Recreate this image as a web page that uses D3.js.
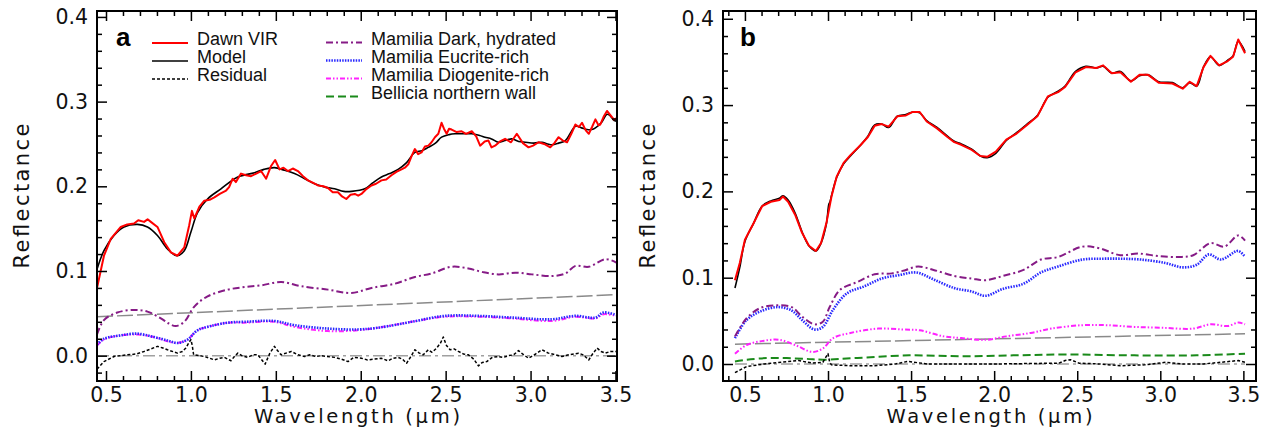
<!DOCTYPE html>
<html>
<head>
<meta charset="utf-8">
<script src="https://cdn.jsdelivr.net/npm/d3@7"></script>
<style>
  body { margin: 0; background: #fff; }
  svg { display: block; }
</style>
</head>
<body>
<div id="container"></div>
<script>
let w = 1266;
let h = 430;

// DATA  (wavelength in um, reflectance)
// panel a
let aDawnVIR = [[0.447,0.080],[0.488,0.118],[0.528,0.138],[0.587,0.152],[0.625,0.155],[0.665,0.156],[0.69,0.160],[0.724,0.158],[0.745,0.161],[0.764,0.158],[0.803,0.152],[0.843,0.134],[0.882,0.122],[0.921,0.118],[0.961,0.128],[0.990,0.154],[1.006,0.171],[1.02,0.162],[1.05,0.176],[1.079,0.183],[1.11,0.184],[1.138,0.187],[1.17,0.191],[1.207,0.195],[1.225,0.199],[1.246,0.209],[1.265,0.205],[1.295,0.215],[1.325,0.213],[1.354,0.212],[1.385,0.215],[1.413,0.218],[1.443,0.209],[1.472,0.224],[1.496,0.231],[1.522,0.220],[1.545,0.222],[1.571,0.218],[1.6,0.221],[1.63,0.218],[1.66,0.212],[1.689,0.207],[1.72,0.204],[1.748,0.201],[1.78,0.200],[1.807,0.198],[1.835,0.193],[1.866,0.193],[1.89,0.188],[1.915,0.185],[1.94,0.190],[1.965,0.191],[1.985,0.189],[2.004,0.191],[2.035,0.197],[2.063,0.201],[2.09,0.203],[2.122,0.207],[2.15,0.208],[2.181,0.213],[2.21,0.217],[2.240,0.220],[2.26,0.222],[2.28,0.226],[2.30,0.236],[2.319,0.244],[2.338,0.238],[2.358,0.240],[2.378,0.247],[2.398,0.248],[2.417,0.252],[2.437,0.258],[2.457,0.262],[2.476,0.275],[2.49,0.268],[2.506,0.262],[2.52,0.268],[2.535,0.267],[2.565,0.264],[2.594,0.265],[2.62,0.262],[2.654,0.265],[2.68,0.259],[2.703,0.248],[2.73,0.253],[2.752,0.254],[2.77,0.246],[2.791,0.248],[2.82,0.253],[2.85,0.256],[2.885,0.252],[2.919,0.262],[2.955,0.251],[2.988,0.246],[3.015,0.248],[3.047,0.252],[3.08,0.250],[3.116,0.246],[3.14,0.251],[3.165,0.258],[3.19,0.254],[3.215,0.252],[3.24,0.262],[3.264,0.273],[3.285,0.270],[3.303,0.275],[3.325,0.266],[3.343,0.262],[3.362,0.270],[3.382,0.279],[3.40,0.272],[3.411,0.273],[3.43,0.282],[3.45,0.289],[3.47,0.284],[3.49,0.279],[3.505,0.280]];
let aModel = [[0.447,0.102],[0.488,0.124],[0.547,0.142],[0.606,0.152],[0.685,0.155],[0.744,0.152],[0.803,0.142],[0.862,0.126],[0.917,0.118],[0.961,0.124],[1.0,0.146],[1.039,0.169],[1.098,0.185],[1.177,0.197],[1.276,0.211],[1.374,0.216],[1.43,0.220],[1.492,0.222],[1.55,0.219],[1.61,0.215],[1.67,0.209],[1.728,0.203],[1.79,0.199],[1.846,0.197],[1.9,0.194],[1.945,0.194],[2.024,0.197],[2.07,0.204],[2.122,0.211],[2.17,0.215],[2.22,0.220],[2.27,0.228],[2.319,0.240],[2.36,0.242],[2.398,0.246],[2.44,0.251],[2.476,0.258],[2.52,0.261],[2.555,0.262],[2.6,0.262],[2.654,0.262],[2.7,0.260],[2.732,0.258],[2.77,0.256],[2.811,0.252],[2.85,0.254],[2.89,0.256],[2.93,0.253],[2.969,0.252],[3.02,0.251],[3.067,0.252],[3.1,0.250],[3.126,0.249],[3.165,0.251],[3.205,0.254],[3.235,0.263],[3.264,0.271],[3.30,0.269],[3.333,0.267],[3.36,0.267],[3.382,0.269],[3.42,0.276],[3.45,0.285],[3.47,0.283],[3.49,0.278],[3.505,0.277]];
let aResidual = [[0.447,-0.016],[0.488,-0.007],[0.547,-0.001],[0.626,0.001],[0.68,0.002],[0.724,0.005],[0.765,0.008],[0.803,0.011],[0.835,0.009],[0.862,0.007],[0.921,0.003],[0.950,0.005],[0.970,0.009],[0.990,0.016],[1.0,0.019],[1.008,0.012],[1.016,0.001],[1.05,0.000],[1.079,-0.001],[1.11,-0.003],[1.138,-0.005],[1.17,-0.003],[1.197,-0.002],[1.236,-0.006],[1.256,-0.001],[1.276,0.003],[1.30,0.000],[1.335,-0.002],[1.365,0.001],[1.394,0.001],[1.437,-0.010],[1.465,0.003],[1.492,0.011],[1.51,0.006],[1.531,0.001],[1.56,0.003],[1.591,0.005],[1.63,0.001],[1.669,-0.001],[1.70,0.001],[1.735,-0.001],[1.768,0.000],[1.80,-0.001],[1.846,-0.002],[1.885,-0.004],[1.925,-0.007],[1.96,-0.002],[2.004,-0.003],[2.04,-0.005],[2.083,-0.004],[2.12,-0.003],[2.161,-0.006],[2.19,-0.003],[2.22,-0.002],[2.245,-0.004],[2.27,-0.009],[2.295,-0.001],[2.319,0.007],[2.345,0.003],[2.368,0.001],[2.398,0.007],[2.42,0.004],[2.447,0.009],[2.47,0.015],[2.486,0.022],[2.505,0.012],[2.526,0.007],[2.55,0.008],[2.575,0.005],[2.605,0.002],[2.634,0.001],[2.665,-0.004],[2.693,-0.012],[2.715,-0.008],[2.742,-0.007],[2.775,-0.002],[2.811,-0.001],[2.84,-0.002],[2.87,0.000],[2.9,0.001],[2.929,0.006],[2.96,0.001],[2.988,-0.003],[3.03,0.002],[3.067,0.007],[3.105,0.003],[3.146,0.001],[3.185,-0.001],[3.224,0.001],[3.255,0.002],[3.283,0.003],[3.31,0.001],[3.343,-0.005],[3.365,0.002],[3.392,0.009],[3.415,0.005],[3.441,0.003],[3.47,0.005],[3.505,0.005]];
let aDark = [[0.447,0.025],[0.488,0.042],[0.567,0.051],[0.665,0.054],[0.744,0.052],[0.823,0.044],[0.870,0.038],[0.911,0.035],[0.961,0.040],[1.02,0.058],[1.098,0.070],[1.217,0.078],[1.315,0.081],[1.413,0.083],[1.531,0.087],[1.65,0.082],[1.807,0.078],[1.945,0.074],[2.063,0.080],[2.201,0.085],[2.319,0.093],[2.417,0.097],[2.535,0.105],[2.634,0.103],[2.713,0.099],[2.811,0.096],[2.909,0.098],[3.008,0.096],[3.126,0.094],[3.205,0.097],[3.264,0.106],[3.343,0.105],[3.441,0.114],[3.505,0.110]];
let aEucrite = [[0.447,0.013],[0.488,0.020],[0.587,0.024],[0.685,0.026],[0.783,0.022],[0.862,0.018],[0.921,0.015],[0.980,0.019],[1.039,0.030],[1.118,0.035],[1.217,0.039],[1.315,0.040],[1.492,0.041],[1.61,0.036],[1.807,0.032],[1.984,0.031],[2.102,0.033],[2.299,0.040],[2.496,0.047],[2.693,0.047],[2.89,0.045],[3.126,0.043],[3.264,0.047],[3.382,0.045],[3.43,0.051],[3.505,0.048]];
let aDiogenite = [[0.447,0.012],[0.488,0.019],[0.587,0.024],[0.685,0.025],[0.783,0.022],[0.862,0.017],[0.921,0.015],[0.980,0.019],[1.039,0.030],[1.118,0.035],[1.217,0.039],[1.315,0.039],[1.492,0.040],[1.61,0.034],[1.807,0.029],[1.984,0.030],[2.102,0.033],[2.299,0.040],[2.496,0.046],[2.693,0.046],[2.89,0.044],[3.126,0.041],[3.264,0.046],[3.382,0.044],[3.43,0.049],[3.505,0.047]];
let aContinuum = [[0.447,0.046],[3.505,0.072]];
let aZero = [[0.447,0.0],[3.505,0.0]];

// panel b
let bDawnVIR = [[0.44,0.097],[0.469,0.117],[0.5,0.144],[0.552,0.163],[0.604,0.183],[0.656,0.188],[0.708,0.190],[0.729,0.194],[0.76,0.188],[0.802,0.173],[0.844,0.152],[0.885,0.137],[0.927,0.131],[0.958,0.140],[0.99,0.163],[1.021,0.194],[1.052,0.217],[1.094,0.233],[1.135,0.242],[1.198,0.254],[1.24,0.263],[1.281,0.276],[1.323,0.278],[1.365,0.275],[1.417,0.287],[1.469,0.288],[1.51,0.292],[1.552,0.292],[1.594,0.281],[1.656,0.273],[1.719,0.263],[1.76,0.257],[1.802,0.254],[1.865,0.248],[1.917,0.241],[1.958,0.240],[2.01,0.246],[2.073,0.260],[2.135,0.267],[2.198,0.277],[2.26,0.287],[2.323,0.310],[2.385,0.315],[2.427,0.321],[2.49,0.338],[2.552,0.344],[2.615,0.343],[2.656,0.346],[2.708,0.337],[2.76,0.338],[2.823,0.327],[2.875,0.335],[2.927,0.335],[2.99,0.326],[3.073,0.325],[3.135,0.319],[3.177,0.327],[3.219,0.322],[3.26,0.344],[3.302,0.357],[3.354,0.346],[3.406,0.351],[3.438,0.356],[3.469,0.376],[3.51,0.360]];
let bModel = [[0.44,0.088],[0.469,0.112],[0.5,0.142],[0.552,0.163],[0.604,0.183],[0.656,0.189],[0.708,0.192],[0.729,0.195],[0.76,0.190],[0.802,0.175],[0.844,0.153],[0.885,0.137],[0.927,0.131],[0.958,0.140],[0.99,0.162],[1.005,0.185],[1.012,0.188],[1.021,0.195],[1.052,0.216],[1.094,0.232],[1.135,0.241],[1.198,0.254],[1.24,0.264],[1.281,0.277],[1.323,0.278],[1.365,0.274],[1.417,0.287],[1.469,0.289],[1.51,0.292],[1.552,0.291],[1.594,0.282],[1.656,0.274],[1.719,0.264],[1.76,0.258],[1.802,0.255],[1.865,0.249],[1.917,0.241],[1.958,0.239],[2.01,0.244],[2.073,0.259],[2.135,0.268],[2.198,0.278],[2.26,0.288],[2.323,0.309],[2.385,0.316],[2.427,0.322],[2.49,0.339],[2.552,0.345],[2.615,0.343],[2.656,0.345],[2.708,0.337],[2.76,0.339],[2.823,0.328],[2.875,0.334],[2.927,0.335],[2.99,0.327],[3.073,0.326],[3.135,0.320],[3.177,0.326],[3.219,0.322],[3.26,0.344],[3.302,0.356],[3.354,0.346],[3.406,0.352],[3.438,0.357],[3.469,0.374],[3.51,0.362]];
let bResidual = [[0.44,-0.010],[0.51,-0.003],[0.615,0.000],[0.719,0.002],[0.823,0.004],[0.906,0.001],[0.969,0.002],[1.0,0.012],[1.01,0.002],[1.021,-0.001],[1.135,-0.002],[1.281,-0.002],[1.406,0.000],[1.479,0.003],[1.6,0.000],[2.0,0.000],[2.39,0.001],[2.427,0.004],[2.46,0.005],[2.51,0.001],[2.635,0.000],[2.76,-0.002],[2.906,-0.001],[3.031,0.002],[3.135,0.000],[3.26,0.000],[3.365,0.002],[3.469,0.004],[3.51,0.002]];
let bDark = [[0.44,0.032],[0.51,0.053],[0.594,0.065],[0.698,0.068],[0.781,0.066],[0.844,0.055],[0.917,0.046],[0.969,0.049],[1.01,0.066],[1.073,0.086],[1.177,0.095],[1.281,0.104],[1.385,0.105],[1.469,0.109],[1.542,0.113],[1.635,0.109],[1.76,0.102],[1.865,0.099],[1.948,0.097],[2.052,0.102],[2.177,0.109],[2.281,0.121],[2.385,0.124],[2.531,0.136],[2.635,0.134],[2.76,0.126],[2.865,0.128],[2.99,0.125],[3.115,0.124],[3.198,0.126],[3.302,0.140],[3.385,0.136],[3.469,0.149],[3.51,0.143]];
let bEucrite = [[0.44,0.030],[0.51,0.051],[0.594,0.061],[0.698,0.066],[0.781,0.062],[0.844,0.051],[0.917,0.040],[0.969,0.043],[1.031,0.063],[1.115,0.082],[1.219,0.090],[1.323,0.099],[1.427,0.103],[1.531,0.106],[1.635,0.098],[1.76,0.088],[1.865,0.084],[1.948,0.079],[2.052,0.087],[2.177,0.093],[2.281,0.106],[2.385,0.113],[2.531,0.121],[2.656,0.122],[2.76,0.122],[2.885,0.121],[3.031,0.117],[3.135,0.112],[3.219,0.115],[3.292,0.127],[3.365,0.121],[3.469,0.131],[3.51,0.124]];
let bDiogenite = [[0.44,0.012],[0.51,0.022],[0.615,0.027],[0.708,0.028],[0.802,0.022],[0.906,0.014],[0.969,0.018],[1.031,0.030],[1.135,0.036],[1.302,0.041],[1.448,0.040],[1.552,0.039],[1.698,0.032],[1.802,0.030],[1.948,0.028],[2.073,0.032],[2.219,0.036],[2.344,0.041],[2.531,0.045],[2.677,0.045],[2.844,0.043],[3.01,0.042],[3.198,0.041],[3.302,0.046],[3.406,0.044],[3.469,0.048],[3.51,0.046]];
let bBellicia = [[0.44,0.003],[0.51,0.005],[0.656,0.007],[0.865,0.006],[0.969,0.005],[1.177,0.007],[1.49,0.010],[1.802,0.009],[2.115,0.010],[2.427,0.011],[2.844,0.010],[3.219,0.010],[3.51,0.012]];
let bContinuum = [[0.44,0.023],[3.51,0.035]];
let bZero = [[0.44,0.0],[3.51,0.0]];

let xMajor = [0.5, 1.0, 1.5, 2.0, 2.5, 3.0, 3.5];
let yMajor = [0.0, 0.1, 0.2, 0.3, 0.4];

// SVG
let viz = d3.select("#container").append("svg")
    .attr("width", w)
    .attr("height", h)
    .style("background-color", "white");

let styles = {
  dawn:      {stroke: "#ff0000", width: 2,   dash: null,            curve: d3.curveLinear},
  model:     {stroke: "#000000", width: 1.6, dash: null,            curve: d3.curveCatmullRom},
  residual:  {stroke: "#000000", width: 1.5, dash: "3,2",           curve: d3.curveLinear},
  dark:      {stroke: "#861b86", width: 2,   dash: "7,3,2,3",       curve: d3.curveCatmullRom},
  eucrite:   {stroke: "#2a2aff", width: 2.6, dash: "1.5,1.2",       curve: d3.curveCatmullRom},
  diogenite: {stroke: "#ff22ff", width: 2,   dash: "5,2,1.5,2,1.5,2", curve: d3.curveCatmullRom},
  bellicia:  {stroke: "#1a8a1a", width: 2,   dash: "8,4",           curve: d3.curveCatmullRom},
  continuum: {stroke: "#8a8a8a", width: 1.5, dash: "16,4",          curve: d3.curveLinear},
  zero:      {stroke: "#a0a0a0", width: 1.5, dash: "12,4,3,4",      curve: d3.curveLinear}
};

function drawPanel(cfg){
  let x = d3.scaleLinear().domain(cfg.xDomain).range([cfg.left, cfg.right]);
  let y = d3.scaleLinear().domain(cfg.yDomain).range([cfg.bottom, cfg.top]);
  let g = viz.append("g");

  let xMinor = d3.range(3, 36).map(function(i){ return i/10; })
    .filter(function(d){ return d >= cfg.xDomain[0] && d <= cfg.xDomain[1] && Math.round(d*10) % 5 != 0; });
  let yMinor = d3.range(-2, 21).map(function(i){ return i*0.02; })
    .filter(function(d){ return d >= cfg.yDomain[0] && d <= cfg.yDomain[1] && Math.round(d*50) % 5 != 0; });

  let clipId = "clip" + cfg.name;
  g.append("clipPath").attr("id", clipId).append("rect")
    .attr("x", cfg.left).attr("y", cfg.top)
    .attr("width", cfg.right - cfg.left).attr("height", cfg.bottom - cfg.top);

  let lineMaker = d3.line()
    .x(function(d){ return x(d[0]); })
    .y(function(d){ return y(d[1]); });

  let plot = g.append("g").attr("clip-path", "url(#" + clipId + ")");
  cfg.series.forEach(function(s){
    let st = styles[s.style];
    plot.append("path")
      .datum(s.data)
      .attr("d", lineMaker.curve(st.curve))
      .attr("fill", "none")
      .attr("stroke", st.stroke)
      .attr("stroke-width", st.width)
      .attr("stroke-dasharray", st.dash)
      .attr("stroke-linejoin", "round");
  });

  // axes (ticks point inward)
  let fmt = d3.format(".1f");
  let axes = [
    {ax: d3.axisBottom(x), t: "translate(0," + cfg.bottom + ")", major: xMajor, minor: xMinor, labels: true, pad: 6},
    {ax: d3.axisTop(x),    t: "translate(0," + cfg.top + ")",    major: xMajor, minor: xMinor, labels: false, pad: 6},
    {ax: d3.axisLeft(y),   t: "translate(" + cfg.left + ",0)",   major: yMajor, minor: yMinor, labels: true, pad: 9},
    {ax: d3.axisRight(y),  t: "translate(" + cfg.right + ",0)",  major: yMajor, minor: yMinor, labels: false, pad: 9}
  ];
  axes.forEach(function(a){
    g.append("g").attr("transform", a.t)
      .call(a.ax.tickValues(a.minor).tickSize(-5).tickFormat(""))
      .call(function(s){ s.select(".domain").remove(); })
      .selectAll("line").attr("stroke", "#000").attr("stroke-width", 1.5);
    let majorAxis = g.append("g").attr("transform", a.t)
      .call(a.ax.tickValues(a.major).tickSize(-10).tickPadding(a.pad)
        .tickFormat(a.labels ? fmt : ""))
      .call(function(s){ s.select(".domain").remove(); });
    majorAxis.selectAll("line").attr("stroke", "#000").attr("stroke-width", 1.5);
    majorAxis.selectAll("text")
      .attr("font-family", "DejaVu Sans")
      .attr("font-size", 20.5)
      .attr("fill", "#111");
  });

  g.append("rect")
    .attr("x", cfg.left).attr("y", cfg.top)
    .attr("width", cfg.right - cfg.left).attr("height", cfg.bottom - cfg.top)
    .attr("fill", "none").attr("stroke", "#000").attr("stroke-width", 2);

  // axis titles
  g.append("text")
    .attr("x", (cfg.left + cfg.right) / 2).attr("y", 423)
    .attr("text-anchor", "middle")
    .attr("font-family", "DejaVu Sans").attr("font-size", 19.5)
    .attr("textLength", 206).attr("lengthAdjust", "spacing")
    .attr("fill", "#111")
    .text("Wavelength (\u03bcm)");
  g.append("text")
    .attr("transform", "translate(" + (cfg.left - 68) + "," + ((cfg.top + cfg.bottom) / 2) + ") rotate(-90)")
    .attr("text-anchor", "middle")
    .attr("font-family", "DejaVu Sans").attr("font-size", 21)
    .attr("textLength", 145).attr("lengthAdjust", "spacing")
    .attr("fill", "#111")
    .text("Reflectance");

  g.append("text")
    .attr("x", cfg.left + cfg.tagDx).attr("y", 46)
    .attr("font-family", "Liberation Sans").attr("font-weight", "bold")
    .attr("font-size", 26)
    .text(cfg.name);

  return {x: x, y: y, g: g};
}

drawPanel({
  name: "a", left: 97, right: 617, top: 11, bottom: 381, tagDx: 19,
  xDomain: [0.447, 3.509], yDomain: [-0.0299, 0.407],
  series: [
    {data: aZero, style: "zero"},
    {data: aContinuum, style: "continuum"},
    {data: aDark, style: "dark"},
    {data: aDiogenite, style: "diogenite"},
    {data: aEucrite, style: "eucrite"},
    {data: aResidual, style: "residual"},
    {data: aModel, style: "model"},
    {data: aDawnVIR, style: "dawn"}
  ]
});

drawPanel({
  name: "b", left: 723, right: 1256, top: 11, bottom: 381, tagDx: 17,
  xDomain: [0.368, 3.576], yDomain: [-0.0197, 0.409],
  series: [
    {data: bZero, style: "zero"},
    {data: bContinuum, style: "continuum"},
    {data: bBellicia, style: "bellicia"},
    {data: bDiogenite, style: "diogenite"},
    {data: bEucrite, style: "eucrite"},
    {data: bDark, style: "dark"},
    {data: bResidual, style: "residual"},
    {data: bModel, style: "model"},
    {data: bDawnVIR, style: "dawn"}
  ]
});

// LEGEND (panel a)
let legendLeft = ["Dawn VIR", "Model", "Residual"];
let legendLeftStyle = ["dawn", "model", "residual"];
let legendRight = ["Mamilia Dark, hydrated", "Mamilia Eucrite-rich", "Mamilia Diogenite-rich", "Bellicia northern wall"];
let legendRightStyle = ["dark", "eucrite", "diogenite", "bellicia"];

function drawLegend(names, keys, x0, y0){
  let lg = viz.append("g");
  names.forEach(function(n, i){
    let st = styles[keys[i]];
    let yy = y0 + i * 18;
    lg.append("line")
      .attr("x1", x0).attr("x2", x0 + 36)
      .attr("y1", yy - 1).attr("y2", yy - 1)
      .attr("stroke", st.stroke)
      .attr("stroke-width", st.width)
      .attr("stroke-dasharray", st.dash);
    lg.append("text")
      .attr("x", x0 + 45).attr("y", yy + 1)
      .attr("font-family", "Liberation Sans")
      .attr("font-size", 18)
      .attr("fill", "#111")
      .text(n);
  });
}
drawLegend(legendLeft, legendLeftStyle, 152, 44);
drawLegend(legendRight, legendRightStyle, 326, 43.5);
</script>
</body>
</html>
